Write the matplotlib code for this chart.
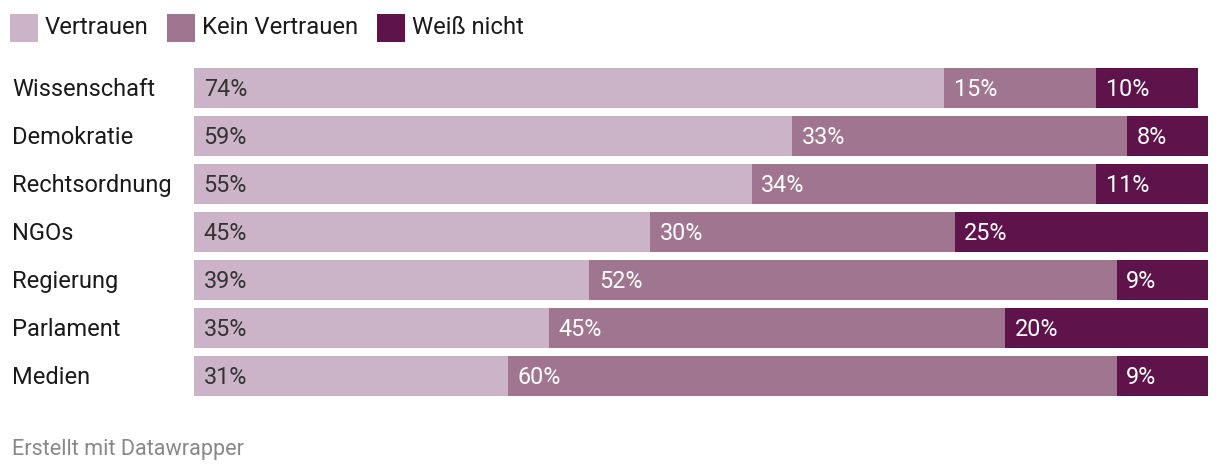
import matplotlib.pyplot as plt
from matplotlib.patches import Rectangle

plt.rcParams['font.family'] = ['Roboto', 'DejaVu Sans']

# data
categories = ["Wissenschaft", "Demokratie", "Rechtsordnung", "NGOs",
              "Regierung", "Parlament", "Medien"]
vertrauen = [74, 59, 55, 45, 39, 35, 31]
kein_vertrauen = [15, 33, 34, 30, 52, 45, 60]
weiss_nicht = [10, 8, 11, 25, 9, 20, 9]
series_names = ["Vertrauen", "Kein Vertrauen", "Weiß nicht"]

colors = ["#ccb4c8", "#a07590", "#5f134b"]
text_colors = ["#333333", "white", "white"]

W, H = 1220, 474
fig = plt.figure(figsize=(W / 100, H / 100), dpi=100)
ax = fig.add_axes([194 / W, 1 - 400 / H, 1014 / W, 336 / H])

series = [vertrauen, kein_vertrauen, weiss_nicht]
y = list(range(len(categories)))
left = [0] * len(categories)
for vals, col, tcol in zip(series, colors, text_colors):
    ax.barh(y, vals, left=left, height=40 / 48, color=col, linewidth=0)
    for i, v in enumerate(vals):
        ax.text(left[i] + 0.95, i + 0.03, f"{v}%", va="center", ha="left",
                fontsize=16.8, color=tcol)
    left = [l + v for l, v in zip(left, vals)]

ax.set_xlim(0, 100)
ax.set_ylim(len(categories) - 0.5, -0.5)
ax.axis("off")

for i, c in enumerate(categories):
    ax.text(-182 / 10.14, i + 0.03, c, va="center", ha="left", fontsize=17,
            color="#1a1a1a")

# legend
leg_x = [10, 167, 377]
for x0, name, col in zip(leg_x, series_names, colors):
    fig.add_artist(Rectangle((x0 / W, 1 - 42 / H), 28 / W, 28 / H,
                             transform=fig.transFigure, color=col, linewidth=0))
    fig.text((x0 + 35) / W, 1 - 27 / H, name, va="center", ha="left",
             fontsize=17.2, color="#1a1a1a")

fig.text(12 / W, 1 - 449 / H, "Erstellt mit Datawrapper", va="center",
         ha="left", fontsize=15.6, color="#888888")

fig.savefig("out.png", dpi=100, facecolor="white")
